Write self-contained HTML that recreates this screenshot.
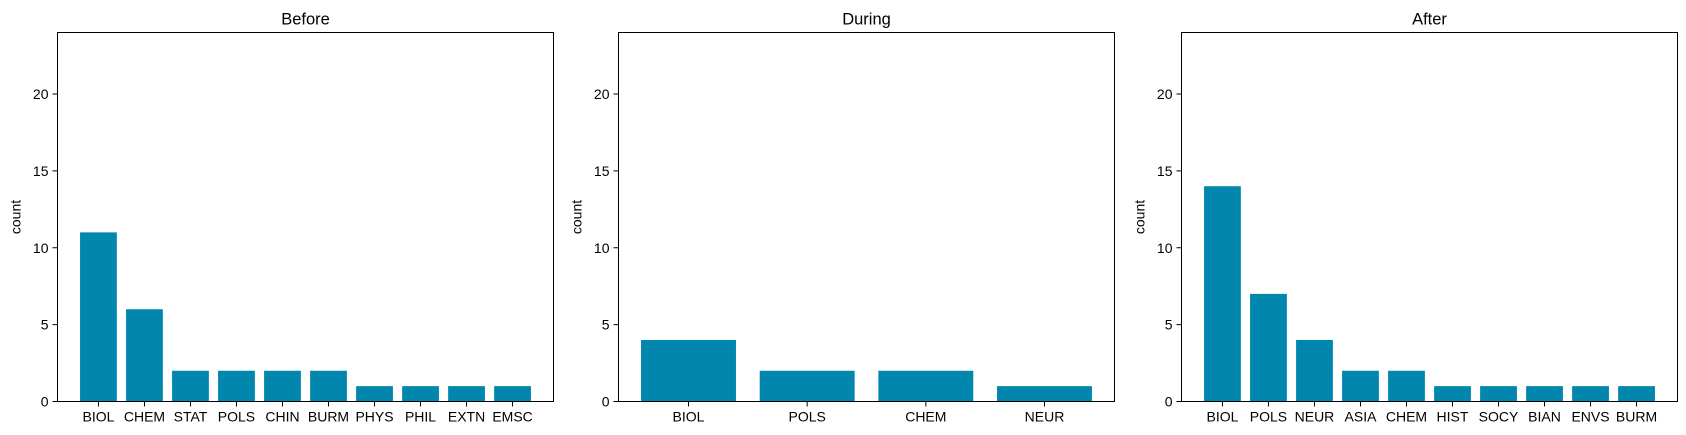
<!DOCTYPE html>
<html><head><meta charset="utf-8"><style>
html,body{margin:0;padding:0;background:#fff;}
svg{display:block;font-family:"Liberation Sans","DejaVu Sans",sans-serif;}
</style></head><body>
<svg id="chart" width="1686" height="435" viewBox="0 0 1686 435"></svg>
<script>
const beforeCats = ["BIOL","CHEM","STAT","POLS","CHIN","BURM","PHYS","PHIL","EXTN","EMSC"];
const beforeVals = [11,6,2,2,2,2,1,1,1,1];
const duringCats = ["BIOL","POLS","CHEM","NEUR"];
const duringVals = [4,2,2,1];
const afterCats = ["BIOL","POLS","NEUR","ASIA","CHEM","HIST","SOCY","BIAN","ENVS","BURM"];
const afterVals = [14,7,4,2,2,1,1,1,1,1];
const yTicks = [0,5,10,15,20];
const yMax = 24;
const titles = ["Before","During","After"];

const NS="http://www.w3.org/2000/svg";
const svgEl=document.getElementById('chart');
function mk(tag,attrs,parent){const e=document.createElementNS(NS,tag);for(const k in attrs)e.setAttribute(k,attrs[k]);(parent||svgEl).appendChild(e);return e;}
const panels=[
 {left:57.5,cats:beforeCats,vals:beforeVals},
 {left:618.5,cats:duringCats,vals:duringVals},
 {left:1181.5,cats:afterCats,vals:afterVals}];
const plotW=496, plotTop=32.5, plotBottom=401.5;
panels.forEach((p,pi)=>{
  const g=mk('g',{});
  
  
  const n=p.cats.length;
  const span=n-1+0.8, m=0.05*span;
  const x0=-0.4-m, x1=n-1+0.4+m;
  const xs=v=>p.left+(v-x0)/(x1-x0)*plotW;
  const ys=v=>plotBottom-(v/yMax)*(plotBottom-plotTop);
  p.vals.forEach((v,i)=>{
    const r=mk('rect',{x:xs(i-0.4),y:ys(v),width:xs(i+0.4)-xs(i-0.4),height:plotBottom-ys(v),fill:'#0187ae'},g);
    
    
    mk('line',{x1:xs(i),x2:xs(i),y1:plotBottom,y2:plotBottom+5,stroke:'#000','stroke-width':1},g);
    const t=mk('text',{x:xs(i),y:plotBottom+20,'text-anchor':'middle','font-size':14},g);
    t.textContent=p.cats[i];
    
    
  });
  yTicks.forEach(v=>{
    mk('line',{x1:p.left-5,x2:p.left,y1:ys(v),y2:ys(v),stroke:'#000','stroke-width':1},g);
    const t=mk('text',{x:p.left-9,y:ys(v)+5,'text-anchor':'end','font-size':14},g);
    t.textContent=v;
    
    
  });
  const fr=mk('rect',{x:p.left,y:plotTop,width:plotW,height:plotBottom-plotTop,fill:'none',stroke:'#000','stroke-width':1},g);
  
  
  const tt=mk('text',{x:p.left+plotW/2,y:plotTop-8,'text-anchor':'middle','font-size':16.5},g);
  tt.textContent=titles[pi];
  
  
  const yl=mk('text',{x:0,y:0,'text-anchor':'middle','font-size':14,transform:`translate(${p.left-37},${(plotTop+plotBottom)/2}) rotate(-90)`},g);
  yl.textContent='count';
  
  
});
</script>
</body></html>
